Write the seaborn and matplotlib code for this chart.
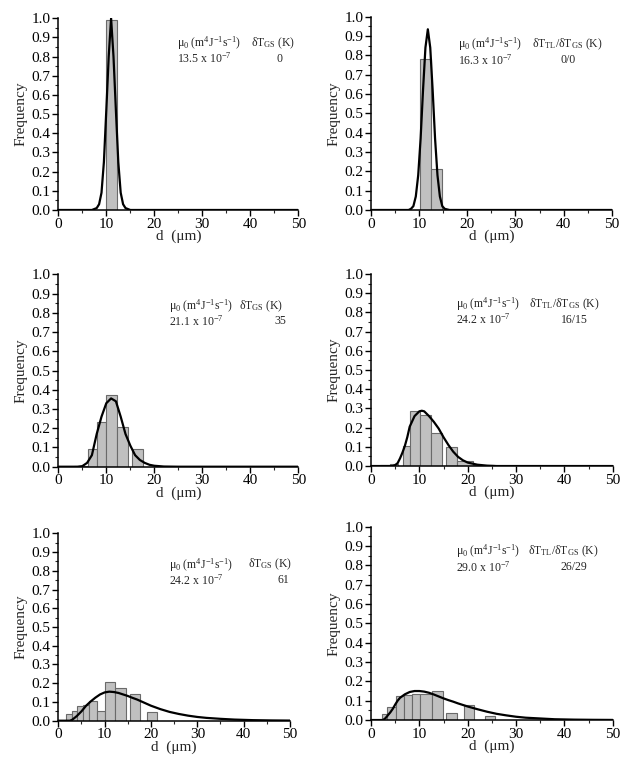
import numpy as np
import pandas as pd
import matplotlib
matplotlib.use("Agg")
import matplotlib.pyplot as plt
from matplotlib.ticker import MultipleLocator, FormatStrFormatter
import seaborn as sns

sns.set_style("ticks")
plt.rcParams["font.family"] = ["Liberation Serif", "STIXGeneral", "DejaVu Serif"]
plt.rcParams["mathtext.fontset"] = "custom"
plt.rcParams["mathtext.rm"] = "Liberation Serif"
plt.rcParams["mathtext.it"] = "Liberation Serif:italic"
plt.rcParams["mathtext.bf"] = "Liberation Serif:bold"
plt.rcParams["mathtext.default"] = "regular"

# ---- grain-size histograms: bin edges (um) and frequencies ----
edges_1 = [10.0, 12.2]
freq_1 = [0.99]

edges_2 = [10.2, 12.5, 14.8]
freq_2 = [0.78, 0.21]

edges_3 = [3.2, 6.2, 8.0, 9.9, 12.2, 14.6, 15.3, 17.6]
freq_3 = [0.006, 0.09, 0.23, 0.375, 0.205, 0.0, 0.09]

edges_4 = [1.8, 4.0, 5.5, 6.6, 8.1, 10.1, 12.4, 14.7, 15.5, 17.7, 21.0, 25.5]
freq_4 = [0.005, 0.012, 0.0, 0.105, 0.285, 0.268, 0.172, 0.0, 0.097, 0.025, 0.004]

edges_5 = [1.7, 2.9, 4.0, 5.3, 6.6, 8.3, 10.1, 12.3, 14.7, 15.5, 17.6, 19.1, 21.2]
freq_5 = [0.035, 0.052, 0.078, 0.085, 0.105, 0.053, 0.207, 0.173, 0.0, 0.14, 0.0, 0.045]

edges_6 = [2.2, 3.4, 5.1, 6.8, 8.4, 10.1, 12.6, 14.8, 15.6, 17.7, 19.2, 21.4, 23.6, 25.7]
freq_6 = [0.033, 0.068, 0.122, 0.13, 0.135, 0.135, 0.148, 0.0, 0.035, 0.0, 0.078, 0.0, 0.02]

# ---- fitted distribution curves ----
curve_x_1 = [0, 7, 8, 8.5, 9, 9.5, 10, 10.5, 11, 11.5, 12, 12.5, 13, 13.5, 14, 15, 50]
curve_y_1 = [0, 0, 0.01, 0.03, 0.09, 0.25, 0.52, 0.8, 1.0, 0.8, 0.52, 0.25, 0.09, 0.03, 0.01, 0, 0]

curve_x_2 = [0, 7.8, 8.3, 8.8, 9.3, 9.8, 10.3, 10.8, 11.3, 11.8, 12.3, 12.8, 13.3, 13.8,
             14.3, 14.8, 15.3, 16.3, 50]
curve_y_2 = [0, 0, 0.006, 0.02, 0.07, 0.18, 0.37, 0.62, 0.84, 0.935, 0.84, 0.62, 0.37, 0.18,
             0.07, 0.02, 0.006, 0, 0]

curve_x_3 = [0, 4, 5, 6, 7, 8, 9, 10, 11, 12, 13, 14, 15, 16, 17, 18, 19, 20, 22, 25, 50]
curve_y_3 = [0, 0, 0.003, 0.02, 0.06, 0.17, 0.26, 0.33, 0.355, 0.34, 0.26, 0.17, 0.11, 0.06,
             0.035, 0.02, 0.01, 0.005, 0.001, 0, 0]

curve_x_4 = [0, 4.5, 5, 5.5, 6, 6.5, 7, 7.5, 8, 9, 10, 10.5, 11, 12, 13, 14, 15, 16, 17, 18,
             19, 20, 22, 24, 26, 50]
curve_y_4 = [0, 0, 0.005, 0.015, 0.04, 0.07, 0.105, 0.15, 0.205, 0.26, 0.285, 0.288, 0.285,
             0.26, 0.23, 0.195, 0.15, 0.11, 0.075, 0.048, 0.03, 0.018, 0.007, 0.002, 0, 0]

curve_x_5 = [0, 2.5, 3, 4, 5, 6, 7, 8, 9, 10, 11, 12, 13, 14, 15, 16, 17, 18, 20, 22, 24, 26,
             28, 30, 32, 35, 38, 42, 46, 50]
curve_y_5 = [0, 0, 0.005, 0.025, 0.05, 0.08, 0.103, 0.123, 0.14, 0.151, 0.155, 0.153, 0.148,
             0.14, 0.132, 0.122, 0.113, 0.102, 0.08, 0.062, 0.047, 0.036, 0.027, 0.02, 0.015,
             0.01, 0.006, 0.003, 0.0015, 0.0007]

curve_x_6 = [0, 2.5, 3, 3.5, 4, 4.5, 5, 5.5, 6, 7, 8, 9, 10, 11, 12, 13, 14, 15, 16, 17, 18,
             20, 22, 24, 26, 28, 30, 32, 35, 38, 42, 46, 50]
curve_y_6 = [0, 0, 0.01, 0.025, 0.04, 0.058, 0.08, 0.1, 0.115, 0.133, 0.145, 0.15, 0.15, 0.147,
             0.141, 0.132, 0.122, 0.112, 0.103, 0.095, 0.086, 0.07, 0.056, 0.043, 0.032, 0.024,
             0.017, 0.012, 0.008, 0.004, 0.002, 0.001, 0.0005]

# ---- annotation values ----
mu0_values = ["13.5", "16.3", "21.1", "24.2", "24.2", "29.0"]
dT_values = ["0", "0/0", "35", "16/15", "61", "26/29"]
dT_headers = ["δT$_{GS}$ (K)", "δT$_{TL}$/δT$_{GS}$ (K)", "δT$_{GS}$ (K)",
              "δT$_{TL}$/δT$_{GS}$ (K)", "δT$_{GS}$ (K)", "δT$_{TL}$/δT$_{GS}$ (K)"]
mu0_header = "μ$_0$ (m$^4$J$^{-1}$s$^{-1}$)"

x_ticks = [0, 10, 20, 30, 40, 50]
y_ticks = [0.0, 0.1, 0.2, 0.3, 0.4, 0.5, 0.6, 0.7, 0.8, 0.9, 1.0]

all_edges = [edges_1, edges_2, edges_3, edges_4, edges_5, edges_6]
all_freq = [freq_1, freq_2, freq_3, freq_4, freq_5, freq_6]
all_cx = [curve_x_1, curve_x_2, curve_x_3, curve_x_4, curve_x_5, curve_x_6]
all_cy = [curve_y_1, curve_y_2, curve_y_3, curve_y_4, curve_y_5, curve_y_6]

# axes rectangles in figure fraction
axes_rects = [
    (0.0924, 0.7237, 0.3803, 0.2522),
    (0.5880, 0.7237, 0.3815, 0.2543),
    (0.0924, 0.3859, 0.3803, 0.2532),
    (0.5880, 0.3868, 0.3830, 0.2526),
    (0.0924, 0.0517, 0.3672, 0.2466),
    (0.5880, 0.0526, 0.3830, 0.2543),
]
# text layout (axes fraction): header x, column-2 x, value centre x, row 1 y, row 2 y
text_layout = [
    (0.494, 0.803, 0.923, 0.868, 0.790),
    (0.360, 0.668, 0.820, 0.858, 0.776),
    (0.462, 0.752, 0.924, 0.832, 0.755),
    (0.350, 0.652, 0.840, 0.845, 0.762),
    (0.478, 0.818, 0.971, 0.832, 0.750),
    (0.350, 0.650, 0.840, 0.872, 0.792),
]

fig = plt.figure(figsize=(6.31, 7.60), dpi=100)

for i in range(6):
    ax = fig.add_axes(axes_rects[i])
    edges = [float(e) for e in all_edges[i]]
    mids = [(a + b) / 2 for a, b in zip(edges[:-1], edges[1:])]
    sns.histplot(x=mids, weights=list(all_freq[i]), bins=edges,
                 color="#c0c0c0", edgecolor="#6a6a6a", linewidth=0.8, alpha=1.0, ax=ax)
    df_curve = pd.DataFrame({"d": all_cx[i], "f": all_cy[i]})
    sns.lineplot(data=df_curve, x="d", y="f", color="black", linewidth=1.6, ax=ax)

    ax.set_xlim(0, 50)
    ax.set_ylim(0, 1.0)
    ax.set_xticks(x_ticks)
    ax.set_yticks(y_ticks)
    ax.xaxis.set_minor_locator(MultipleLocator(5))
    ax.yaxis.set_minor_locator(MultipleLocator(0.05))
    ax.yaxis.set_major_formatter(FormatStrFormatter("%.1f"))
    ax.tick_params(axis="both", which="major", direction="out", length=4, width=1,
                   labelsize=11, pad=1.5, colors="black")
    ax.tick_params(axis="both", which="minor", direction="out", length=2, width=0.8)
    for side in ("top", "right"):
        ax.spines[side].set_visible(False)
    for side in ("left", "bottom"):
        ax.spines[side].set_linewidth(1.1)
        ax.spines[side].set_color("black")
    ax.set_xlabel("d  (μm)", fontsize=11, labelpad=-0.5)
    ax.set_ylabel("Frequency", fontsize=11, labelpad=3)

    hx, cx2, vx, y1, y2 = text_layout[i]
    ax.text(hx, y1, mu0_header, transform=ax.transAxes, fontsize=8.5, ha="left", va="center")
    ax.text(cx2, y1, dT_headers[i], transform=ax.transAxes, fontsize=8.5, ha="left", va="center")
    ax.text(hx, y2, f"{mu0_values[i]} x 10$^{{-7}}$", transform=ax.transAxes, fontsize=8.5,
            ha="left", va="center")
    ax.text(vx, y2, dT_values[i], transform=ax.transAxes, fontsize=8.5, ha="center", va="center")

fig.savefig("out.png", dpi=100, facecolor="white")
